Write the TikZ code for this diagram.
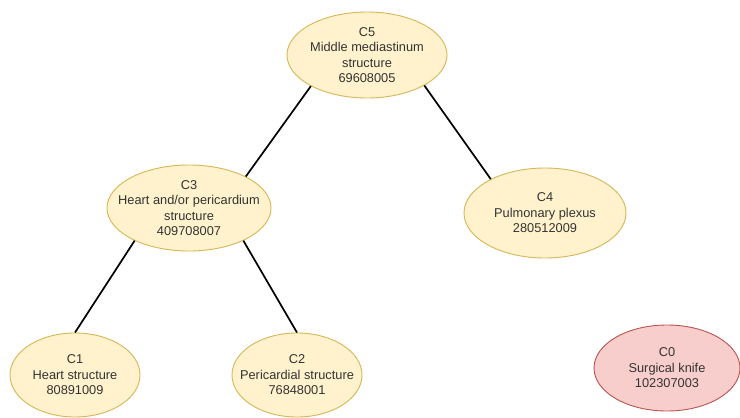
\documentclass[tikz,border=0pt]{standalone}
\usepackage{fontspec}
\setmainfont{Liberation Sans}
\usetikzlibrary{shapes.geometric}
\definecolor{yfill}{HTML}{FFF2CC}
\definecolor{yline}{HTML}{D6B656}
\definecolor{rfill}{HTML}{F8CECC}
\definecolor{rline}{HTML}{B85450}
\definecolor{ink}{HTML}{333333}
\tikzset{
  concept/.style={ellipse, draw=yline, fill=yfill, line width=0.9pt, inner sep=0pt},
  knife/.style={ellipse, draw=rline, fill=rfill, line width=0.9pt, inner sep=0pt},
  txt/.style={align=center, text=ink, font=\fontsize{12.8}{15.5}\selectfont, inner sep=0pt},
  link/.style={line width=1.7pt, black}
}
\begin{document}
\begin{tikzpicture}[x=1pt,y=-1pt]
\useasboundingbox (0,0) rectangle (740,418);
\fill[white] (0,0) rectangle (740,418);

\node[concept, minimum width=160pt, minimum height=86pt,
      label={[txt]center:{C5\\Middle mediastinum\\structure\\69608005}}] (c5) at (367,55) {};
\node[concept, minimum width=164pt, minimum height=86pt,
      label={[txt]center:{C3\\Heart and/or pericardium\\structure\\409708007}}] (c3) at (189,208) {};
\node[concept, minimum width=162pt, minimum height=90pt,
      label={[txt]center:{C4\\Pulmonary plexus\\280512009}}] (c4) at (545,213) {};
\node[concept, minimum width=130pt, minimum height=84pt,
      label={[txt]center:{C1\\Heart structure\\80891009}}] (c1) at (75,375) {};
\node[concept, minimum width=130pt, minimum height=84pt,
      label={[txt]center:{C2\\Pericardial structure\\76848001}}] (c2) at (297,375) {};
\node[knife, minimum width=146pt, minimum height=86pt,
      label={[txt]center:{C0\\Surgical knife\\102307003}}] (c0) at (667,368) {};

\draw[link] (c5.-151) -- (c3.29);
\draw[link] (c5.-28) -- (c4.148);
\draw[link] (c3.-149) -- (c1.north);
\draw[link] (c3.-31) -- (c2.north);
\end{tikzpicture}
\end{document}
